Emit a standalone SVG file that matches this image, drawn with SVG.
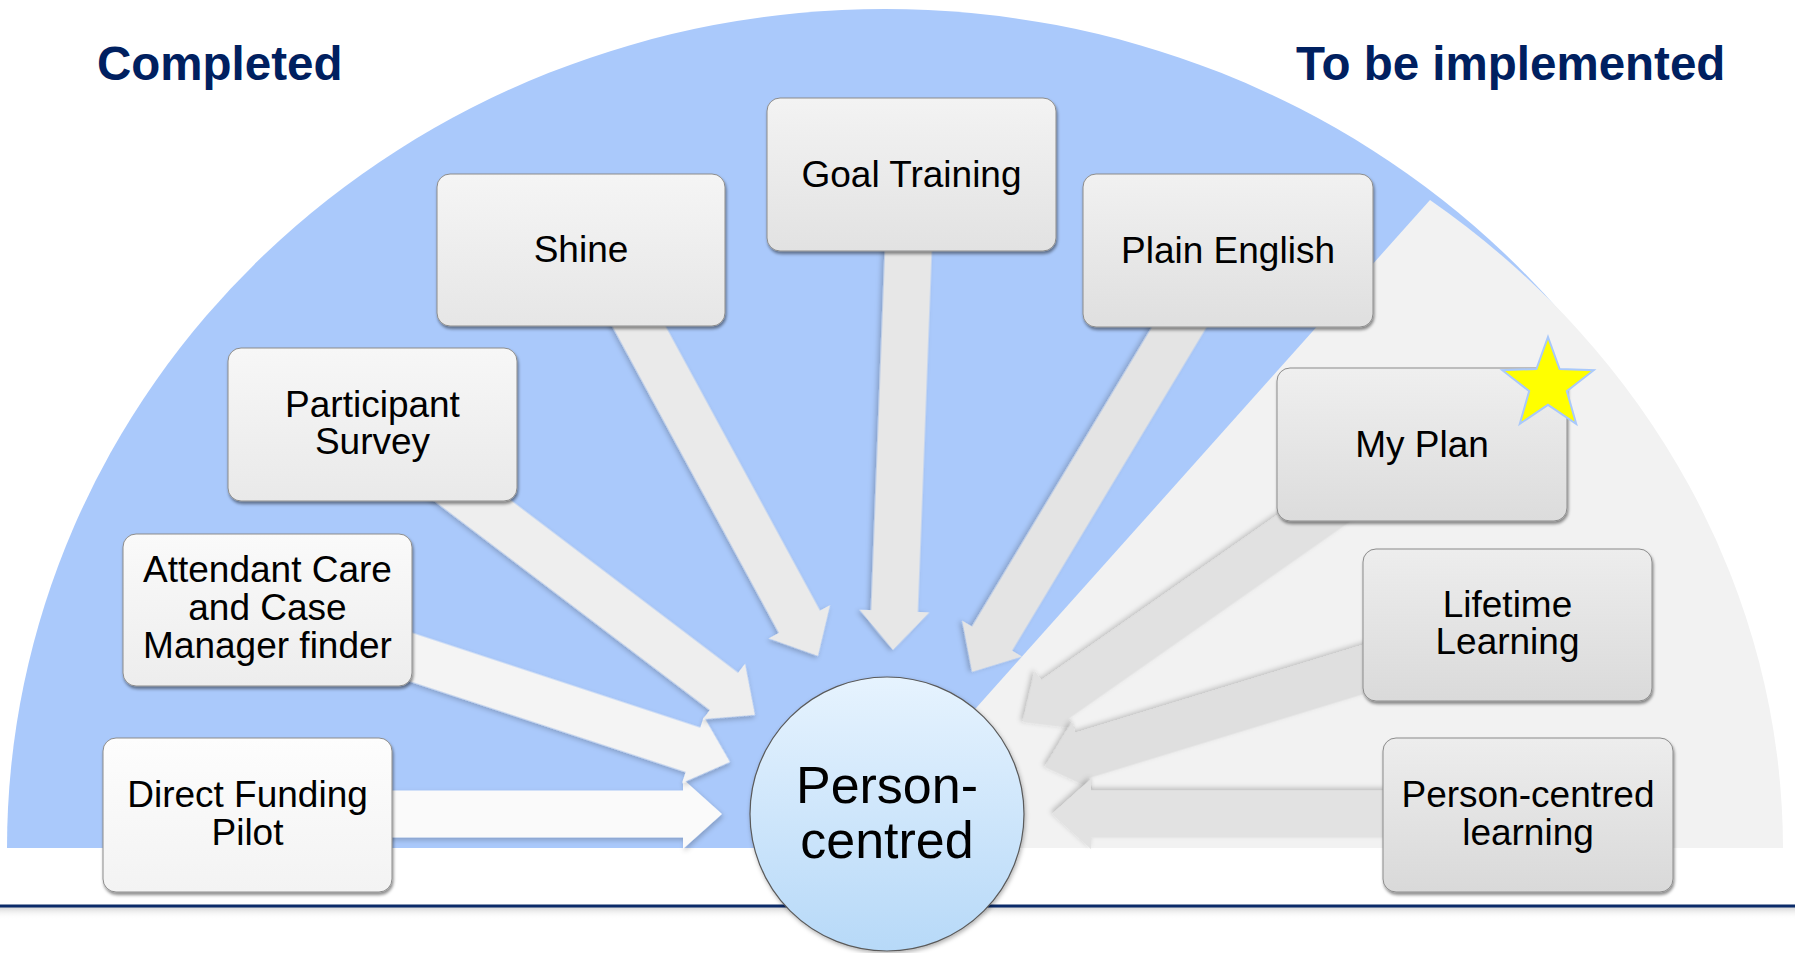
<svg xmlns="http://www.w3.org/2000/svg" xmlns:xlink="http://www.w3.org/1999/xlink" width="1795" height="953" viewBox="0 0 1795 953">
  <style>
    .title { font-family: "Liberation Sans", Arial, sans-serif; font-weight: bold; font-size: 47.5px; fill: #002060; }
    .label { font-family: "Liberation Sans", Arial, sans-serif; font-size: 37px; fill: #000; text-anchor: middle; }
    .hub { font-family: "Liberation Sans", Arial, sans-serif; font-size: 52px; fill: #000; text-anchor: middle; }
    .box { stroke: #8c8c8c; stroke-width: 1; filter: url(#boxShadow); }
    .arrow { filter: url(#arrowShadow); }
  </style>
  <defs>
    <filter id="boxShadow" x="-10%" y="-10%" width="125%" height="130%">
      <feDropShadow dx="1" dy="2.5" stdDeviation="1.6" flood-color="#000" flood-opacity="0.45"/>
    </filter>
    <filter id="arrowShadow" x="-10%" y="-20%" width="125%" height="150%">
      <feDropShadow dx="1.5" dy="2.5" stdDeviation="2.5" flood-color="#000" flood-opacity="0.22"/>
    </filter>
    <filter id="hubShadow" x="-10%" y="-10%" width="125%" height="125%">
      <feDropShadow dx="1" dy="2" stdDeviation="2" flood-color="#000" flood-opacity="0.3"/>
    </filter>
    <linearGradient id="hubFill" x1="0" y1="0" x2="0" y2="1">
      <stop offset="0" stop-color="#e6f3fe"/>
      <stop offset="1" stop-color="#b7d9f8"/>
    </linearGradient>
    <linearGradient id="lineShade" x1="0" y1="0" x2="0" y2="1">
      <stop offset="0" stop-color="#c8c8c8" stop-opacity="0.8"/>
      <stop offset="1" stop-color="#ffffff" stop-opacity="0"/>
    </linearGradient>
    <linearGradient id="g1" x1="0" y1="0" x2="0" y2="1"><stop offset="0" stop-color="#fdfdfd"/><stop offset="1" stop-color="#f3f3f3"/></linearGradient>
    <linearGradient id="g2" x1="0" y1="0" x2="0" y2="1"><stop offset="0" stop-color="#fafafa"/><stop offset="1" stop-color="#ededed"/></linearGradient>
    <linearGradient id="g3" x1="0" y1="0" x2="0" y2="1"><stop offset="0" stop-color="#f7f7f7"/><stop offset="1" stop-color="#e9e9e9"/></linearGradient>
    <linearGradient id="g4" x1="0" y1="0" x2="0" y2="1"><stop offset="0" stop-color="#f5f5f5"/><stop offset="1" stop-color="#e6e6e6"/></linearGradient>
    <linearGradient id="g5" x1="0" y1="0" x2="0" y2="1"><stop offset="0" stop-color="#f3f3f3"/><stop offset="1" stop-color="#e2e2e2"/></linearGradient>
    <linearGradient id="g6" x1="0" y1="0" x2="0" y2="1"><stop offset="0" stop-color="#f1f1f1"/><stop offset="1" stop-color="#dfdfdf"/></linearGradient>
    <linearGradient id="g7" x1="0" y1="0" x2="0" y2="1"><stop offset="0" stop-color="#efefef"/><stop offset="1" stop-color="#dcdcdc"/></linearGradient>
    <linearGradient id="g8" x1="0" y1="0" x2="0" y2="1"><stop offset="0" stop-color="#ededed"/><stop offset="1" stop-color="#dadada"/></linearGradient>
    <linearGradient id="g9" x1="0" y1="0" x2="0" y2="1"><stop offset="0" stop-color="#ededed"/><stop offset="1" stop-color="#d9d9d9"/></linearGradient>
    <!-- block arrow pointing along +x with its tip at the origin -->
    <polygon id="blockArrow" points="-490,-23.5 -39,-23.5 -39,-35 0,0 -39,35 -39,23.5 -490,23.5"/>
  </defs>

  <rect width="1795" height="953" fill="#ffffff"/>

  <!-- backdrop: half-disc with the pending wedge on its right -->
  <g id="backdrop">
    <path d="M 7,848 A 878 839 0 0 1 1763,848 Z" fill="#aac9fb"/>
    <path d="M 851,848 L 1430,200 A 898 817 0 0 1 1783,848 Z" fill="#f2f2f2"/>
    <rect x="0" y="907" width="1795" height="12" fill="url(#lineShade)"/>
    <line x1="0" y1="906" x2="1795" y2="906" stroke="#0b2b69" stroke-width="3"/>
  </g>

  <text class="title" x="97" y="80">Completed</text>
  <text class="title" x="1296" y="80">To be implemented</text>

  <!-- connectors, drawn clockwise from the lower left -->
  <g id="connectors">
    <use xlink:href="#blockArrow" class="arrow" fill="#fafafa" transform="translate(722,814) rotate(0)"/>
    <use xlink:href="#blockArrow" class="arrow" fill="#f4f4f4" transform="translate(730,762) rotate(18.2)"/>
    <use xlink:href="#blockArrow" class="arrow" fill="#eeeeee" transform="translate(755,715) rotate(37.2)"/>
    <use xlink:href="#blockArrow" class="arrow" fill="#eaeaea" transform="translate(818,656) rotate(61.5)"/>
    <use xlink:href="#blockArrow" class="arrow" fill="#e7e7e7" transform="translate(893,650) rotate(92.2)"/>
    <use xlink:href="#blockArrow" class="arrow" fill="#e4e4e4" transform="translate(972,672) rotate(121)"/>
    <use xlink:href="#blockArrow" class="arrow" fill="#e1e1e1" transform="translate(1023,722) rotate(145)"/>
    <use xlink:href="#blockArrow" class="arrow" fill="#dfdfdf" transform="translate(1045,767) rotate(163)"/>
    <use xlink:href="#blockArrow" class="arrow" fill="#e2e2e2" transform="translate(1052,814) rotate(180)"/>
  </g>

  <g id="node-direct-funding">
    <rect class="box" x="103" y="738" width="289" height="154" rx="13" fill="url(#g1)"/>
    <text class="label" x="247.5" y="807">Direct Funding</text>
    <text class="label" x="247.5" y="845">Pilot</text>
  </g>
  <g id="node-attendant-care">
    <rect class="box" x="123" y="534" width="289" height="152" rx="13" fill="url(#g2)"/>
    <text class="label" x="267.5" y="582">Attendant Care</text>
    <text class="label" x="267.5" y="620">and Case</text>
    <text class="label" x="267.5" y="658">Manager finder</text>
  </g>
  <g id="node-participant-survey">
    <rect class="box" x="228" y="348" width="289" height="153" rx="13" fill="url(#g3)"/>
    <text class="label" x="372.5" y="417">Participant</text>
    <text class="label" x="372.5" y="454">Survey</text>
  </g>
  <g id="node-shine">
    <rect class="box" x="437" y="174" width="288" height="152" rx="13" fill="url(#g4)"/>
    <text class="label" x="581" y="262">Shine</text>
  </g>
  <g id="node-goal-training">
    <rect class="box" x="767" y="98" width="289" height="153" rx="13" fill="url(#g5)"/>
    <text class="label" x="911.5" y="187">Goal Training</text>
  </g>
  <g id="node-plain-english">
    <rect class="box" x="1083" y="174" width="290" height="153" rx="13" fill="url(#g6)"/>
    <text class="label" x="1228" y="263">Plain English</text>
  </g>
  <g id="node-my-plan">
    <rect class="box" x="1277" y="368" width="290" height="153" rx="13" fill="url(#g7)"/>
    <text class="label" x="1422" y="457">My Plan</text>
    <polygon points="1548,337 1559.6,369 1593.7,370.2 1566.8,391.1 1576.2,423.8 1548,404.8 1519.8,423.8 1529.2,391.1 1502.3,370.2 1536.4,369" fill="#ffff00" stroke="#a9c9fb" stroke-width="2"/>
  </g>
  <g id="node-lifetime-learning">
    <rect class="box" x="1363" y="549" width="289" height="152" rx="13" fill="url(#g8)"/>
    <text class="label" x="1507.5" y="617">Lifetime</text>
    <text class="label" x="1507.5" y="654">Learning</text>
  </g>
  <g id="node-person-centred-learning">
    <rect class="box" x="1383" y="738" width="290" height="154" rx="13" fill="url(#g9)"/>
    <text class="label" x="1528" y="807">Person-centred</text>
    <text class="label" x="1528" y="845">learning</text>
  </g>

  <g id="node-person-centred">
    <circle cx="887" cy="814" r="137" fill="url(#hubFill)" stroke="#5a5a5a" stroke-width="1.2" filter="url(#hubShadow)"/>
    <text class="hub" x="887" y="803">Person-</text>
    <text class="hub" x="887" y="858">centred</text>
  </g>
</svg>
